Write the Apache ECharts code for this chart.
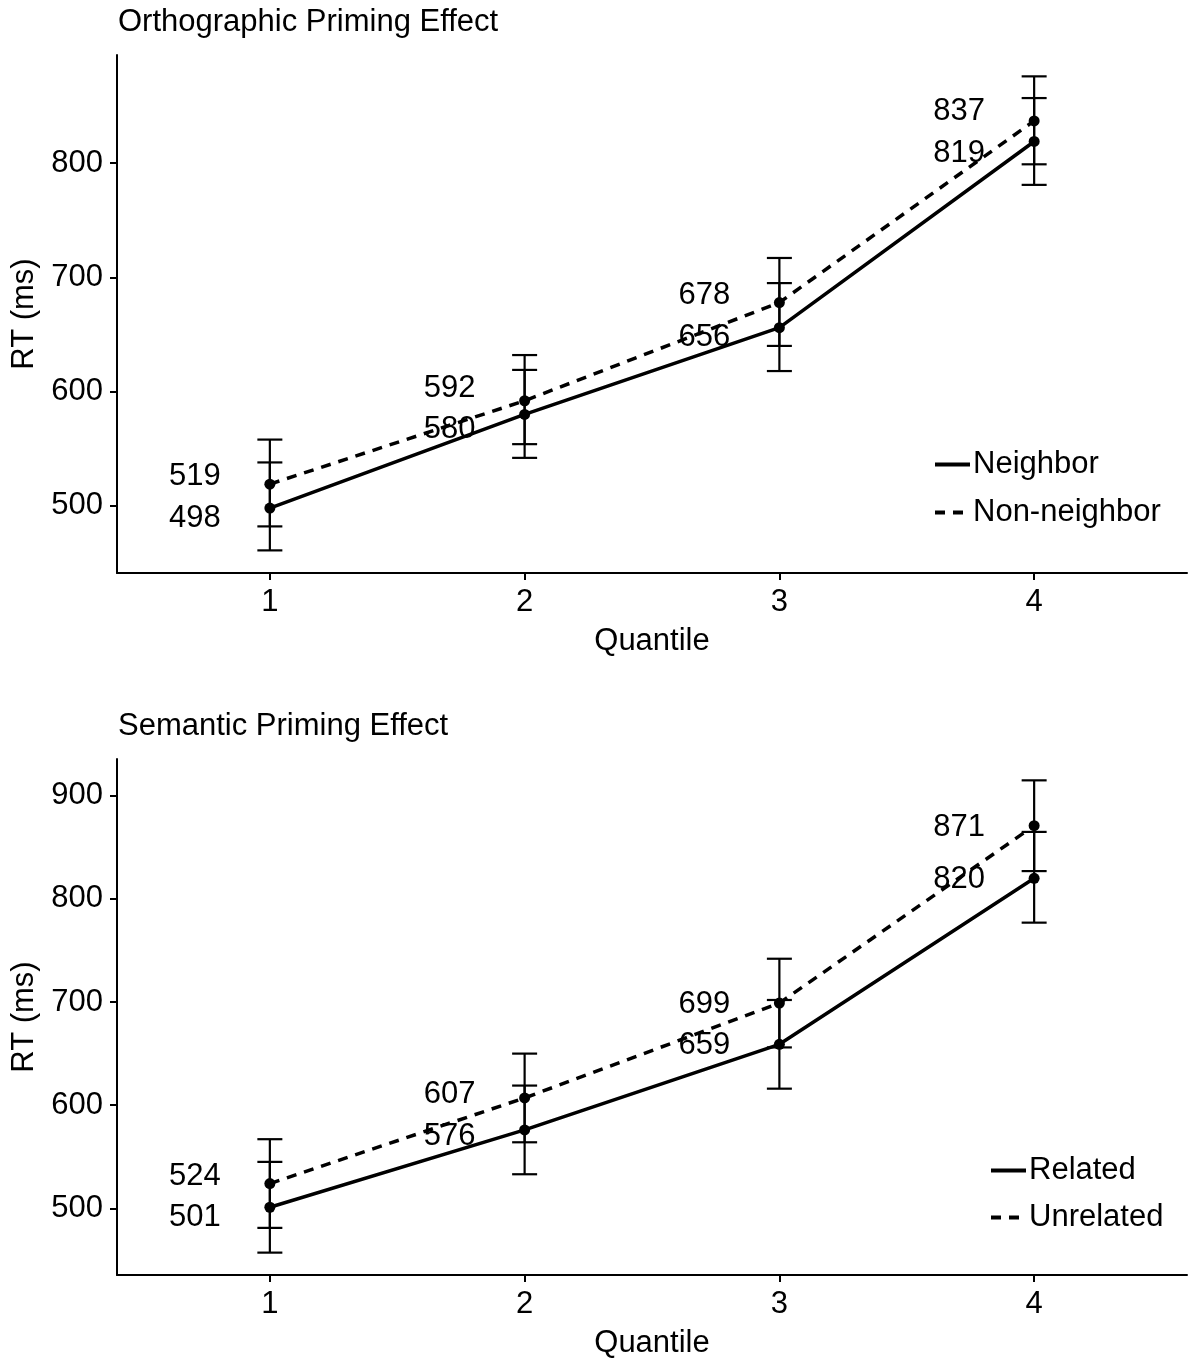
<!DOCTYPE html>
<html lang="en">
<head>
    <meta charset="UTF-8">
    <title>Priming Effects</title>
    <script src="https://cdn.jsdelivr.net/npm/echarts@6/dist/echarts.min.js"></script>
    <style>
        body { margin: 0; background: #fff; }
    </style>
</head>
<body>
<div id="myChart" style="width: 1191px; height: 1360px;"></div>
<script>
    // quantiles on the x axis
    var quantiles = [1, 2, 3, 4];

    // orthographic panel
    var orthoNeighbor = [498, 580, 656, 819];
    var orthoNeighborLow = [461, 542, 618, 781];
    var orthoNeighborHigh = [538, 619, 695, 857];
    var orthoNonNeighbor = [519, 592, 678, 837];
    var orthoNonNeighborLow = [482, 554, 640, 799];
    var orthoNonNeighborHigh = [558, 632, 717, 876];

    // semantic panel
    var semRelated = [501, 576, 659, 820];
    var semRelatedLow = [457, 533, 616, 777];
    var semRelatedHigh = [545, 619, 702, 865];
    var semUnrelated = [524, 607, 699, 871];
    var semUnrelatedLow = [481, 564, 656, 827];
    var semUnrelatedHigh = [567, 650, 742, 915];

    var orthoTicks = [500, 600, 700, 800];
    var semTicks = [500, 600, 700, 800, 900];

    var FONT = '"Liberation Sans", Arial, sans-serif';
    var FS = 31;

    function pairs(ys) {
        return quantiles.map(function (q, i) { return [q, ys[i]]; });
    }
    function bars(lo, hi) {
        return quantiles.map(function (q, i) { return [q, lo[i], hi[i]]; });
    }
    function labelRows(lower, upper) {
        return quantiles.map(function (q, i) { return [q, lower[i], upper[i]]; });
    }

    function renderErrorBar(params, api) {
        var lo = api.coord([api.value(0), api.value(1)]);
        var hi = api.coord([api.value(0), api.value(2)]);
        var w = 12.5;
        var st = { stroke: '#000', lineWidth: 2.2 };
        return {
            type: 'group',
            children: [
                { type: 'line', shape: { x1: lo[0], y1: lo[1], x2: hi[0], y2: hi[1] }, style: st },
                { type: 'line', shape: { x1: lo[0] - w, y1: lo[1], x2: lo[0] + w, y2: lo[1] }, style: st },
                { type: 'line', shape: { x1: hi[0] - w, y1: hi[1], x2: hi[0] + w, y2: hi[1] }, style: st }
            ]
        };
    }

    // value labels, pushed apart when they would overlap
    function renderLabels(params, api) {
        var lowV = api.value(1), upV = api.value(2);
        var pl = api.coord([api.value(0), lowV]);
        var pu = api.coord([api.value(0), upV]);
        var minGap = 41.5;
        var yu = pu[1], yl = pl[1];
        if (yl - yu < minGap) {
            var mid = (yl + yu) / 2;
            yu = mid - minGap / 2;
            yl = mid + minGap / 2;
        }
        var x = pu[0] - 75;
        function txt(s, y) {
            return {
                type: 'text',
                style: {
                    text: String(s), x: x, y: y + 1.5, align: 'center', verticalAlign: 'middle',
                    font: FS + 'px ' + FONT, fill: '#000'
                }
            };
        }
        return { type: 'group', children: [txt(upV, yu), txt(lowV, yl)] };
    }

    function xAxisFor(gi) {
        return {
            type: 'value', gridIndex: gi, min: 0.4, max: 4.6,
            name: 'Quantile', nameLocation: 'middle', nameGap: 53,
            nameTextStyle: { fontSize: FS, color: '#000', fontFamily: FONT },
            splitLine: { show: false },
            axisLine: { onZero: false, lineStyle: { color: '#000', width: 2 } },
            axisTick: { length: 7, customValues: quantiles, lineStyle: { color: '#000', width: 2 } },
            axisLabel: { customValues: quantiles, fontSize: FS, color: '#000', fontFamily: FONT, margin: 14 }
        };
    }
    function yAxisFor(gi, min, max, ticks) {
        return {
            type: 'value', gridIndex: gi, min: min, max: max,
            name: 'RT (ms)', nameLocation: 'middle', nameGap: 77,
            nameTextStyle: { fontSize: FS, color: '#000', fontFamily: FONT },
            splitLine: { show: false },
            axisLine: { show: true, onZero: false, lineStyle: { color: '#000', width: 2 } },
            axisTick: { show: true, length: 7, customValues: ticks, lineStyle: { color: '#000', width: 2 } },
            axisLabel: { customValues: ticks, fontSize: FS, color: '#000', fontFamily: FONT, margin: 14 }
        };
    }

    function panelSeries(idx, names, solid, dashed, solidBar, dashedBar) {
        return [
            {
                type: 'custom', name: names[0] + ' err', xAxisIndex: idx, yAxisIndex: idx,
                renderItem: renderErrorBar, data: bars(solidBar[0], solidBar[1]),
                encode: { x: 0, y: [1, 2] }, z: 1, silent: true
            },
            {
                type: 'custom', name: names[1] + ' err', xAxisIndex: idx, yAxisIndex: idx,
                renderItem: renderErrorBar, data: bars(dashedBar[0], dashedBar[1]),
                encode: { x: 0, y: [1, 2] }, z: 1, silent: true
            },
            {
                type: 'line', name: names[0], xAxisIndex: idx, yAxisIndex: idx,
                data: pairs(solid), symbol: 'none',
                lineStyle: { color: '#000', width: 3.5 }, itemStyle: { color: '#000' }, z: 2
            },
            {
                type: 'line', name: names[1], xAxisIndex: idx, yAxisIndex: idx,
                data: pairs(dashed), symbol: 'none',
                lineStyle: { color: '#000', width: 3.5, type: [10, 8] }, itemStyle: { color: '#000' }, z: 2
            },
            {
                type: 'scatter', name: names[0] + ' pts', xAxisIndex: idx, yAxisIndex: idx,
                data: pairs(solid).concat(pairs(dashed)), symbolSize: 11,
                itemStyle: { color: '#000', opacity: 1 }, z: 3
            },
            {
                type: 'custom', name: names[0] + ' labels', xAxisIndex: idx, yAxisIndex: idx,
                renderItem: renderLabels, data: labelRows(solid, dashed),
                encode: { x: 0, y: [1, 2] }, z: 4, silent: true
            }
        ];
    }

    function legendFor(names, left, top, gap) {
        return {
            data: names, orient: 'vertical', left: left, top: top,
            itemWidth: 35, itemHeight: 28, itemGap: gap,
            itemStyle: { opacity: 0 },
            lineStyle: { width: 4 },
            textStyle: { fontSize: FS, color: '#000', fontFamily: FONT, padding: [0, 0, 0, -2] },
            selectedMode: false
        };
    }

    var chart = echarts.init(document.getElementById('myChart'));
    chart.setOption({
        animation: false,
        backgroundColor: '#fff',
        textStyle: { fontFamily: FONT, color: '#000' },
        title: [
            { text: 'Orthographic Priming Effect', left: 113, top: 2,
              textStyle: { fontSize: FS, fontWeight: 'normal', color: '#000', fontFamily: FONT } },
            { text: 'Semantic Priming Effect', left: 113, top: 706,
              textStyle: { fontSize: FS, fontWeight: 'normal', color: '#000', fontFamily: FONT } }
        ],
        grid: [
            { left: 117, right: 4, top: 55, bottom: 787 },
            { left: 117, right: 4, top: 759, bottom: 82 }
        ],
        xAxis: [xAxisFor(0), xAxisFor(1)],
        yAxis: [
            yAxisFor(0, 441.2, 894.7, orthoTicks),
            yAxisFor(1, 435.3, 935.7, semTicks)
        ],
        legend: [
            legendFor(['Neighbor', 'Non-neighbor'], 928, 444, 17),
            legendFor(['Related', 'Unrelated'], 984, 1150, 16)
        ],
        series: panelSeries(0, ['Neighbor', 'Non-neighbor'], orthoNeighbor, orthoNonNeighbor,
                [orthoNeighborLow, orthoNeighborHigh], [orthoNonNeighborLow, orthoNonNeighborHigh])
            .concat(panelSeries(1, ['Related', 'Unrelated'], semRelated, semUnrelated,
                [semRelatedLow, semRelatedHigh], [semUnrelatedLow, semUnrelatedHigh]))
    });
</script>
</body>
</html>
